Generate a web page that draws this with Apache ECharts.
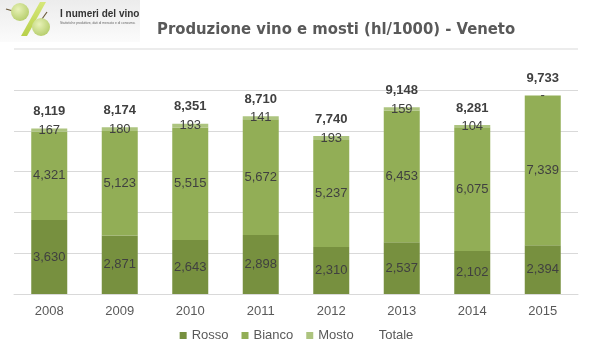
<!DOCTYPE html>
<html>
<head>
<meta charset="utf-8">
<script src="https://cdn.jsdelivr.net/npm/echarts@6/dist/echarts.min.js"></script>
<style>html,body{margin:0;padding:0;background:#fff}#c{width:593px;height:360px}</style>
</head>
<body>
<div id="c"></div>
<script>
const categories = ['2008','2009','2010','2011','2012','2013','2014','2015'];
const rosso  = [3630, 2871, 2643, 2898, 2310, 2537, 2102, 2394];
const bianco = [4321, 5123, 5515, 5672, 5237, 6453, 6075, 7339];
const mosto  = [167, 180, 193, 141, 193, 159, 104, 0];
const totale = [8119, 8174, 8351, 8710, 7740, 9148, 8281, 9733];

const fmt = v => v === 0 ? '-' : v.toLocaleString('en-US');
const labelStyle = {show:true, position:'inside', color:'#404040', fontSize:13, fontFamily:'Arial, Liberation Sans, sans-serif', formatter:p=>fmt(p.value)};

const chart = echarts.init(document.getElementById('c'));
chart.setOption({
  animation:false,
  backgroundColor:'#fff',
  title:{text:'Produzione vino e mosti (hl/1000) - Veneto', left:152, top:16,
    textStyle:{fontSize:16.5, fontWeight:'bold', color:'#595959', fontFamily:"'Liberation Sans Narrow','DejaVu Sans Condensed',sans-serif"}},
  grid:{left:14, right:15, top:90, bottom:66},
  legend:{bottom:13, left:'center', itemWidth:7, itemHeight:7, itemGap:13,
    textStyle:{color:'#595959', fontSize:13, fontFamily:'Arial, Liberation Sans, sans-serif'},
    data:[{name:'Rosso', icon:'rect'},{name:'Bianco', icon:'rect'},{name:'Mosto', icon:'rect'},{name:'Totale', icon:'rect', itemStyle:{opacity:0}}]},
  xAxis:{type:'category', data:categories,
    axisLine:{lineStyle:{color:'#d9d9d9'}}, axisTick:{show:false},
    axisLabel:{color:'#595959', fontSize:13, margin:11, fontFamily:'Arial, Liberation Sans, sans-serif'}},
  yAxis:{type:'value', min:0, max:10000, interval:2000,
    axisLabel:{show:false}, axisLine:{show:false}, axisTick:{show:false},
    splitLine:{lineStyle:{color:'#d9d9d9'}}},
  series:[
    {name:'Rosso', type:'bar', stack:'t', data:rosso, barWidth:36, itemStyle:{color:'#77903f'}, label:labelStyle},
    {name:'Bianco', type:'bar', stack:'t', data:bianco, barWidth:36, itemStyle:{color:'#92ae56'}, label:labelStyle},
    {name:'Mosto', type:'bar', stack:'t', data:mosto, barWidth:36, itemStyle:{color:'#adc47f'}, label:labelStyle},
    {name:'Totale', type:'line', data:totale, symbol:'circle', symbolSize:1, showSymbol:true,
      itemStyle:{color:'rgba(0,0,0,0)'}, lineStyle:{opacity:0},
      label:{show:true, position:'top', distance:10, color:'#404040', fontWeight:'bold', fontSize:13, fontFamily:'Arial, Liberation Sans, sans-serif', formatter:p=>fmt(p.value)}}
  ],
  graphic:[
    {type:'rect', left:0, top:0, shape:{width:140, height:42},
      style:{fill:new echarts.graphic.LinearGradient(0,0,0,1,[{offset:0,color:'#ececec'},{offset:1,color:'#fbfbfb'}])}, z:-1},
    {type:'line', shape:{x1:14, y1:49, x2:578, y2:49}, style:{stroke:'#d9d9d9', lineWidth:1}},
    {type:'polygon', shape:{points:[[40,2],[46,2],[27,36],[21,36]]},
      style:{fill:new echarts.graphic.LinearGradient(0,0,0,1,[{offset:0,color:'#d6e77a'},{offset:1,color:'#b8d04a'}])}},
    {type:'line', shape:{x1:6, y1:9, x2:13, y2:11}, style:{stroke:'#6b5a3a', lineWidth:1.2}},
    {type:'circle', shape:{cx:20, cy:12, r:9},
      style:{fill:new echarts.graphic.RadialGradient(0.4,0.35,0.7,[{offset:0,color:'#e8f2b8'},{offset:1,color:'#b4cc6a'}])}},
    {type:'line', shape:{x1:47, y1:12, x2:42, y2:19}, style:{stroke:'#6b5a3a', lineWidth:1.2}},
    {type:'circle', shape:{cx:41, cy:27, r:9},
      style:{fill:new echarts.graphic.RadialGradient(0.4,0.35,0.7,[{offset:0,color:'#e8f2b8'},{offset:1,color:'#b4cc6a'}])}},
    {type:'text', left:60, top:9, style:{text:'I numeri del vino', fontSize:10, fontWeight:'bold', fill:'#333', fontFamily:'Arial, Liberation Sans, sans-serif'}},
    {type:'text', left:60, top:22, style:{text:'Statistiche produttive, dati di mercato e di consumo.', fontSize:3.3, fill:'#666', fontFamily:'Arial, Liberation Sans, sans-serif'}}
  ]
});
</script>
</body>
</html>
